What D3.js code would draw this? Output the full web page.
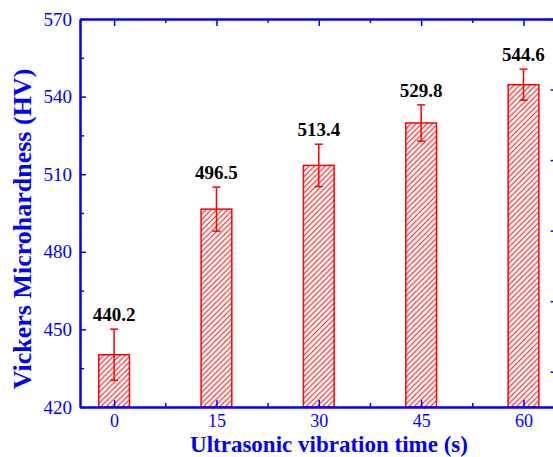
<!DOCTYPE html>
<html><head><meta charset="utf-8">
<script src="https://cdn.jsdelivr.net/npm/d3@7"></script>
<style>body{margin:0;background:#fff}svg{display:block}</style>
</head><body>
<script>
const categories = [0, 15, 30, 45, 60];
const hardness = [440.2, 496.5, 513.4, 529.8, 544.6];
const errors = [9.9, 8.5, 8.2, 7.0, 6.0];
const xTicks = [0, 15, 30, 45, 60];
const xMinor = [7.5, 22.5, 37.5, 52.5];
const yTicks = [420, 450, 480, 510, 540, 570];
const yMinor = [435, 465, 495, 525, 555];
const rightTicks = [0, 1, 2, 3, 4, 5];

const W = 553, H = 457;
const svg = d3.select("body").append("svg").attr("width", W).attr("height", H);
const blue = "#0000ff", red = "#ff0000";
const font = "'Liberation Serif', 'Times New Roman', serif";

const x = d3.scaleLinear().domain([-5, 65]).range([80, 557.6]);
const y = d3.scaleLinear().domain([420, 570]).range([407, 19]);
const yr = d3.scaleLinear().domain([-0.5, 5]).range([407, 19]);
const barW = 4.5;

// hatch pattern
const defs = svg.append("defs");
const s = 5.4;
const pat = defs.append("pattern").attr("id", "hatch").attr("patternUnits", "userSpaceOnUse")
  .attr("width", s).attr("height", s);
pat.append("rect").attr("width", s).attr("height", s).attr("fill", "#fff");
pat.append("path")
  .attr("d", `M0,${s} L${s},0 M${-s/4},${s/4} L${s/4},${-s/4} M${s*3/4},${s*5/4} L${s*5/4},${s*3/4}`)
  .attr("stroke", red).attr("stroke-width", 1);

// bars
svg.selectAll("rect.bar").data(categories).enter().append("rect")
  .attr("class", "bar")
  .attr("x", (d) => x(d - barW / 2))
  .attr("width", x(barW) - x(0))
  .attr("y", (d, i) => y(hardness[i]))
  .attr("height", (d, i) => y(420) - y(hardness[i]))
  .attr("fill", "url(#hatch)").attr("stroke", red).attr("stroke-width", 1.5);

// error bars
const eb = svg.append("g").attr("stroke", red).attr("stroke-width", 1.5).attr("fill", "none");
categories.forEach((c, i) => {
  const cx = x(c);
  const top = y(hardness[i] + errors[i]), bot = y(hardness[i] - errors[i]);
  eb.append("line").attr("x1", cx).attr("x2", cx).attr("y1", top).attr("y2", bot);
  eb.append("line").attr("x1", cx - 4).attr("x2", cx + 4).attr("y1", top).attr("y2", top);
  eb.append("line").attr("x1", cx - 4).attr("x2", cx + 4).attr("y1", bot).attr("y2", bot);
});

// value labels
svg.selectAll("text.val").data(categories).enter().append("text")
  .attr("class", "val")
  .attr("x", (d) => x(d))
  .attr("y", (d, i) => y(hardness[i] + errors[i]) - 8)
  .attr("text-anchor", "middle")
  .attr("font-family", font).attr("font-weight", "bold").attr("font-size", 19)
  .attr("fill", "#000")
  .text((d, i) => hardness[i].toFixed(1));

function styleAxis(g, size) {
  g.selectAll("path.domain").attr("stroke", blue).attr("stroke-width", 2);
  g.selectAll(".tick line").attr("stroke", blue).attr("stroke-width", 1.5);
  g.selectAll("text").attr("fill", blue).attr("font-family", font).attr("font-size", size || 19);
}

// bottom axis
svg.append("g").attr("transform", `translate(0,${y(420)})`)
  .call(d3.axisBottom(x).tickValues(xTicks).tickSizeInner(-7).tickSizeOuter(0).tickPadding(7).tickFormat(d3.format("d")))
  .call(styleAxis, 18);
svg.append("g").attr("transform", `translate(0,${y(420)})`)
  .call(d3.axisBottom(x).tickValues(xMinor).tickSizeInner(-4).tickSizeOuter(0).tickFormat(""))
  .call(styleAxis);
// top axis
svg.append("g").attr("transform", `translate(0,${y(570)})`)
  .call(d3.axisTop(x).tickValues(xTicks).tickSizeInner(-7).tickSizeOuter(0).tickFormat(""))
  .call(styleAxis);
svg.append("g").attr("transform", `translate(0,${y(570)})`)
  .call(d3.axisTop(x).tickValues(xMinor).tickSizeInner(-4).tickSizeOuter(0).tickFormat(""))
  .call(styleAxis);
// left axis
svg.append("g").attr("transform", `translate(${x(-5)},0)`)
  .call(d3.axisLeft(y).tickValues(yTicks).tickSizeInner(-6).tickSizeOuter(0).tickPadding(8).tickFormat(d3.format("d")))
  .call(styleAxis, 19);
svg.append("g").attr("transform", `translate(${x(-5)},0)`)
  .call(d3.axisLeft(y).tickValues(yMinor).tickSizeInner(-4).tickSizeOuter(0).tickFormat(""))
  .call(styleAxis);
// right axis
svg.append("g").attr("transform", `translate(${x(65)},0)`)
  .call(d3.axisLeft(yr).tickValues(rightTicks).tickSizeInner(7).tickSizeOuter(0).tickFormat(""))
  .call(styleAxis);

// axis titles
svg.append("text")
  .attr("x", 329).attr("y", 452)
  .attr("text-anchor", "middle")
  .attr("font-family", font).attr("font-weight", "bold").attr("font-size", 23)
  .attr("fill", blue)
  .text("Ultrasonic vibration time (s)");
svg.append("text")
  .attr("transform", "translate(31,229) rotate(-90)")
  .attr("text-anchor", "middle")
  .attr("font-family", font).attr("font-weight", "bold").attr("font-size", 26)
  .attr("fill", blue)
  .text("Vickers Microhardness (HV)");
</script>
</body></html>
